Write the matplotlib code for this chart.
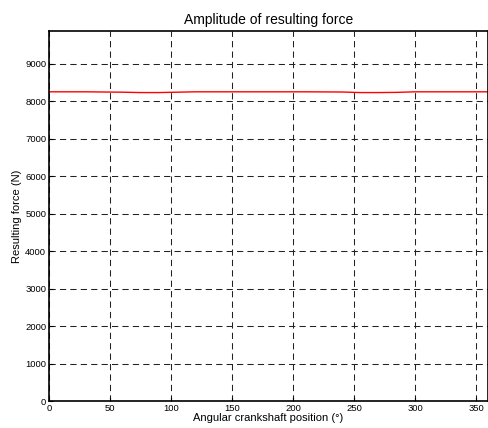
import matplotlib
matplotlib.use("Agg")
import matplotlib.pyplot as plt

# crank angle (deg) and resulting force amplitude (N)
angle = [0, 30, 60, 75, 90, 105, 120, 150, 180, 210, 240, 255, 270, 285, 300, 330, 360]
force = [8255, 8255, 8245, 8235, 8235, 8245, 8255, 8255, 8255, 8255, 8250, 8235, 8235, 8240, 8255, 8255, 8255]

xticks = [0, 50, 100, 150, 200, 250, 300, 350]
yticks = [0, 1000, 2000, 3000, 4000, 5000, 6000, 7000, 8000, 9000]

plt.rcParams['font.family'] = ['Liberation Sans', 'DejaVu Sans']

fig = plt.figure(figsize=(4.88, 4.28), dpi=100)
ax = fig.add_axes([0.1004, 0.063, 0.9, 0.8647])

ax.plot(angle, force, color='red', linewidth=1.0)

ax.set_xlim(0, 360)
ax.set_ylim(0, 9880)
ax.set_xticks(xticks)
ax.set_yticks(yticks)
ax.tick_params(direction='in', labelsize=6.8, length=3, width=0.8, pad=2)
ax.grid(True, color='#222222', linestyle=(0, (6, 4)), linewidth=0.75)
for s in ax.spines.values():
    s.set_linewidth(1.2)

ax.set_title("Amplitude of resulting force", fontsize=10, pad=5)
ax.set_xlabel("Angular crankshaft position (°)", fontsize=8, labelpad=0)
ax.set_ylabel("Resulting force (N)", fontsize=8, labelpad=2)

fig.savefig('out.png', dpi=100)
